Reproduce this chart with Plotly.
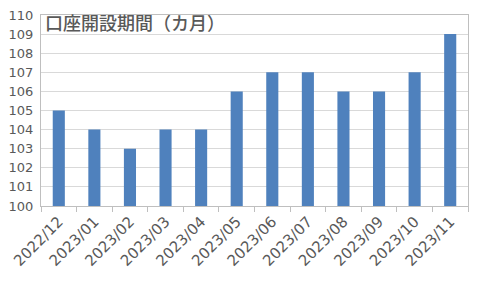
import plotly.graph_objects as go

months = ["2022/12", "2023/01", "2023/02", "2023/03", "2023/04", "2023/05",
          "2023/06", "2023/07", "2023/08", "2023/09", "2023/10", "2023/11"]
values = [105, 104, 103, 104, 104, 106, 107, 107, 106, 106, 107, 109]
title_text = "口座開設期間（カ月）"

fig = go.Figure(go.Bar(x=months, y=values, base=0, marker_color="#4f81bd",
                       marker_line_width=0))
fig.update_layout(
    width=480, height=288,
    margin=dict(l=41, r=12, t=15, b=82),
    paper_bgcolor="white", plot_bgcolor="white",
    bargap=0.66, showlegend=False,
    font=dict(family="DejaVu Sans", color="#595959", size=14),
    annotations=[dict(text=title_text, xref="paper", yref="paper", x=0.005, y=1.04,
                      xanchor="left", yanchor="top", showarrow=False,
                      font=dict(family="Noto Sans CJK JP", size=18, color="#595959",
                                weight=500))],
)
fig.update_xaxes(type="category", showline=True, linecolor="#bfbfbf", linewidth=1,
                 mirror=True, ticks="outside", tickson="boundaries", ticklen=5,
                 tickcolor="#bfbfbf", tickangle=-45, showgrid=False, automargin=False,
                 tickfont=dict(size=15, color="#595959"))
fig.update_yaxes(range=[100, 110], dtick=1, showline=True, linecolor="#bfbfbf",
                 linewidth=1, mirror=True, gridcolor="#d9d9d9",
                 ticks="outside", ticklen=4, tickcolor="rgba(0,0,0,0)",
                 automargin=False,
                 tickfont=dict(size=13, color="#595959"), zeroline=False)
fig.write_html("out.html")
